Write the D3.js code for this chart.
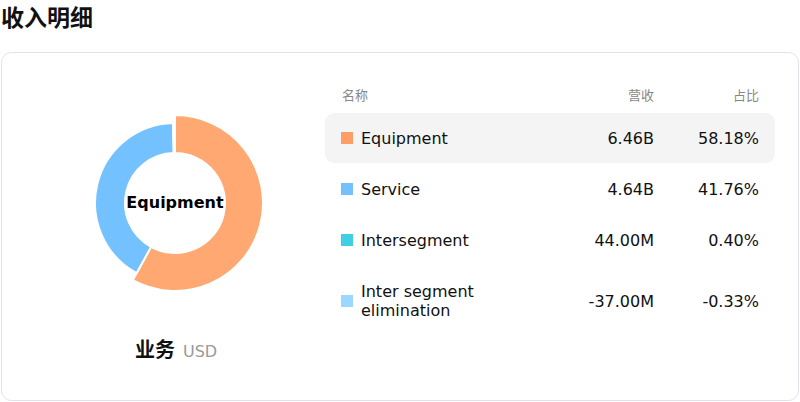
<!DOCTYPE html>
<html><head><meta charset="utf-8">
<script src="https://cdn.jsdelivr.net/npm/d3@7"></script>
<style>
html,body{margin:0;padding:0;background:#fff;}
svg{display:block;font-family:"DejaVu Sans","Noto Sans CJK SC",sans-serif;}
</style></head>
<body>
<svg id="c" width="800" height="402"></svg>
<script>
const categories = ["Equipment", "Service", "Intersegment", "Inter segment elimination"];
const revenues = [6.46e9, 4.64e9, 44.0e6, -37.0e6];
const revenueLabels = ["6.46B", "4.64B", "44.00M", "-37.00M"];
const shareLabels = ["58.18%", "41.76%", "0.40%", "-0.33%"];
const colors = ["#FF9D66", "#73C2FF", "#40D0E6", "#99D9FF"];
const headers = ["名称", "营收", "占比"];

const svg = d3.select("#c");
svg.append("text").attr("x", 1).attr("y", 26).attr("font-size", 23).attr("font-weight", "bold")
  .attr("font-family", "Noto Sans CJK SC").attr("fill", "#111").text("收入明细");

svg.append("rect").attr("x", 1.5).attr("y", 52.5).attr("width", 797).attr("height", 348)
  .attr("rx", 10).attr("fill", "#fff").attr("stroke", "#e2e0ee");

// Donut
const cx = 175, cy = 203;
const pieData = categories.map((c, i) => ({c, v: revenues[i], i})).filter(d => d.v > 0);
const pie = d3.pie().value(d => d.v).sort(null);
const arcs = pie(pieData);
const arcNormal = d3.arc().innerRadius(50).outerRadius(80);
const arcHi = d3.arc().innerRadius(50).outerRadius(88);
const g = svg.append("g").attr("transform", `translate(${cx},${cy})`);
g.selectAll("path").data(arcs).join("path")
  .attr("d", d => d.data.i === 0 ? arcHi(d) : arcNormal(d))
  .attr("fill", d => d.data.i === 0 ? "#FFA872" : colors[d.data.i])
  .attr("stroke", "#fff").attr("stroke-width", 2).attr("stroke-linejoin", "round");
g.append("text").attr("text-anchor", "middle").attr("y", 5).attr("font-size", 16)
  .attr("font-weight", "bold").attr("fill", "#000").text(categories[0]);

// Bottom label
const lab = svg.append("text").attr("x", 135).attr("y", 357);
lab.append("tspan").attr("font-size", 20).attr("font-weight", "bold").attr("fill", "#111")
  .attr("font-family", "Noto Sans CJK SC").text("业务");
lab.append("tspan").attr("dx", 8).attr("font-size", 16).attr("fill", "#999").text("USD");

// Table
const hy = 100;
svg.append("text").attr("x", 342).attr("y", hy).attr("font-size", 13).attr("fill", "#888")
  .attr("font-family", "Noto Sans CJK SC").text(headers[0]);
svg.append("text").attr("x", 654).attr("y", hy).attr("text-anchor", "end").attr("font-size", 13)
  .attr("fill", "#888").attr("font-family", "Noto Sans CJK SC").text(headers[1]);
svg.append("text").attr("x", 759).attr("y", hy).attr("text-anchor", "end").attr("font-size", 13)
  .attr("fill", "#888").attr("font-family", "Noto Sans CJK SC").text(headers[2]);

const rowY = d3.scalePoint().domain(d3.range(3)).range([138, 240]);
const rowCenters = [rowY(0), rowY(1), rowY(2), 301];

svg.append("rect").attr("x", 325).attr("y", 113).attr("width", 450).attr("height", 50)
  .attr("rx", 9).attr("fill", "#f4f4f4");

categories.forEach((c, i) => {
  const y = rowCenters[i];
  svg.append("rect").attr("x", 341).attr("y", y - 6).attr("width", 12).attr("height", 12)
    .attr("fill", colors[i]);
  if (c === "Inter segment elimination") {
    const t = svg.append("text").attr("x", 361).attr("font-size", 16).attr("fill", "#111");
    t.append("tspan").attr("x", 361).attr("y", y - 4).text("Inter segment");
    t.append("tspan").attr("x", 361).attr("y", y + 15).text("elimination");
  } else {
    svg.append("text").attr("x", 361).attr("y", y + 6).attr("font-size", 16).attr("fill", "#111").text(c);
  }
  svg.append("text").attr("x", 654).attr("y", y + 6).attr("text-anchor", "end")
    .attr("font-size", 16).attr("fill", "#111").text(revenueLabels[i]);
  svg.append("text").attr("x", 759).attr("y", y + 6).attr("text-anchor", "end")
    .attr("font-size", 16).attr("fill", "#111").text(shareLabels[i]);
});
</script>
</body></html>
